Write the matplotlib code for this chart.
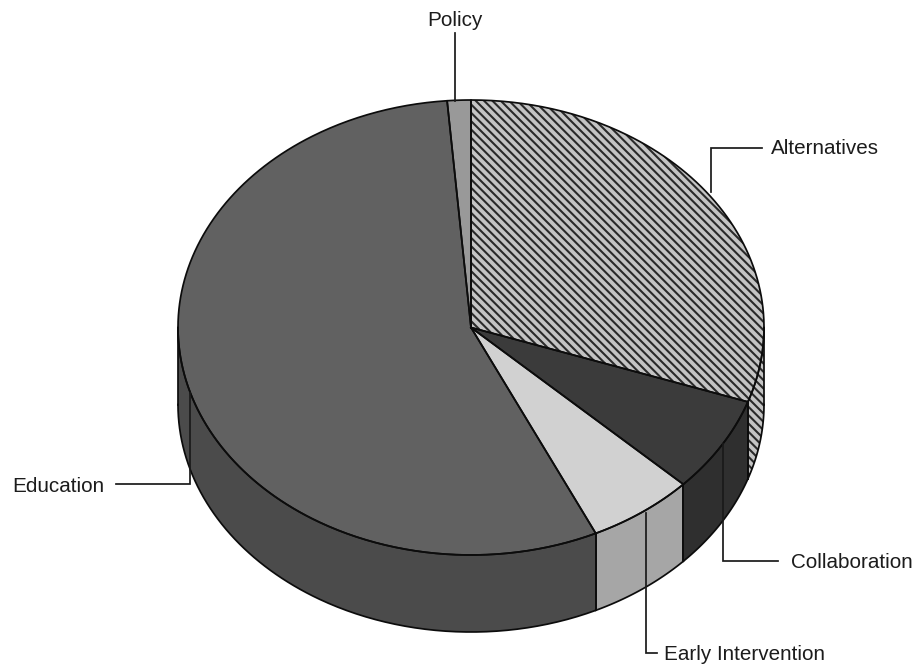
#!/usr/bin/env python3
# -*- coding: utf-8 -*-
"""Tilted 3D pie of spending shares, with elbow leader labels."""

import numpy as np
import matplotlib
matplotlib.use('Agg')
import matplotlib.pyplot as plt
from matplotlib.patches import Polygon

plt.rcParams['font.family'] = ['Liberation Sans', 'DejaVu Sans']
plt.rcParams['hatch.linewidth'] = 1.5

# Clockwise from 12 o'clock.
categories = ['Alternatives', 'Collaboration', 'Early Intervention', 'Education', 'Policy']
shares = [30.3, 6.8, 5.9, 55.7, 1.3]

TOP_COLORS = {'Alternatives': '#c4c4c4', 'Collaboration': '#3b3b3b',
              'Early Intervention': '#d1d1d1', 'Education': '#616161', 'Policy': '#999999'}
SIDE_COLORS = {'Alternatives': '#c4c4c4', 'Collaboration': '#2f2f2f',
               'Early Intervention': '#a6a6a6', 'Education': '#4b4b4b', 'Policy': '#999999'}

CX, CY = 471, 327.5
RX, RY = 293, 227.5
DEPTH = 77
EDGE = '#0c0c0c'
LW = 1.25


def rim(deg, drop=0):
    """Points on the ellipse; deg runs clockwise from the top."""
    t = np.radians(deg)
    return np.column_stack([CX + RX * np.sin(t), CY - RY * np.cos(t) + drop])


def arc(a0, a1, drop=0):
    return rim(np.linspace(a0, a1, max(int(abs(a1 - a0) * 2), 2)), drop)


def add_poly(ax, pts, name, colors):
    hatch = '\\' * 4 if name == 'Alternatives' else None
    ax.add_patch(Polygon(pts, closed=True, facecolor=colors[name],
                         edgecolor='#2a2a2a' if hatch else EDGE,
                         hatch=hatch, lw=0, joinstyle='round'))


def draw_pie(ax):
    edges = np.concatenate([[0], np.cumsum(shares)]) * 360 / sum(shares)
    spans = list(zip(categories, edges[:-1], edges[1:]))

    # Only the front half of the wall shows.
    for name, a0, a1 in spans:
        lo, hi = max(a0, 90), min(a1, 270)
        if hi <= lo:
            continue
        wall = np.vstack([arc(lo, hi), arc(hi, lo, DEPTH)])
        add_poly(ax, wall, name, SIDE_COLORS)
        ax.plot(*arc(lo, hi, DEPTH).T, color=EDGE, lw=LW)
        ax.plot(*arc(lo, hi).T, color=EDGE, lw=LW)
        for a in (lo, hi):
            ax.plot(*np.vstack([rim(a), rim(a, DEPTH)]).T, color=EDGE, lw=LW)

    for name, a0, a1 in spans:
        wedge = np.vstack([[CX, CY], arc(a0, a1)])
        add_poly(ax, wedge, name, TOP_COLORS)
    # Slice outlines go on top of the fills and stripes.
    for name, a0, a1 in spans:
        pts = np.vstack([[CX, CY], arc(a0, a1), [CX, CY]])
        ax.plot(*pts.T, color=EDGE, lw=LW, solid_joinstyle='round')


def draw_labels(ax):
    leaders = [
        ([455, 455], [33, 101]),
        ([711, 711, 762], [192, 148, 148]),
        ([723, 723, 778], [444, 561, 561]),
        ([646, 646, 657], [513, 653, 653]),
        ([190, 190, 116], [393, 484, 484]),
    ]
    for xs, ys in leaders:
        ax.plot(xs, ys, color='#1a1a1a', lw=1.25, solid_joinstyle='miter')

    txt = dict(fontsize=14.9, color='#1c1c1c', va='center')
    ax.text(455, 20.5, 'Policy', ha='center', **txt)
    ax.text(771, 148.5, 'Alternatives', ha='left', **txt)
    ax.text(791, 562.5, 'Collaboration', ha='left', **txt)
    ax.text(664, 654, 'Early Intervention', ha='left', **txt)
    ax.text(12, 486, 'Education', ha='left', **txt)


def main():
    fig = plt.figure(figsize=(9.21, 6.68), dpi=100)
    ax = fig.add_axes([0, 0, 1, 1])
    ax.set_xlim(0, 921)
    ax.set_ylim(668, 0)
    ax.axis('off')
    draw_pie(ax)
    draw_labels(ax)
    fig.savefig('out.png', dpi=100)
    plt.close(fig)


if __name__ == '__main__':
    main()
